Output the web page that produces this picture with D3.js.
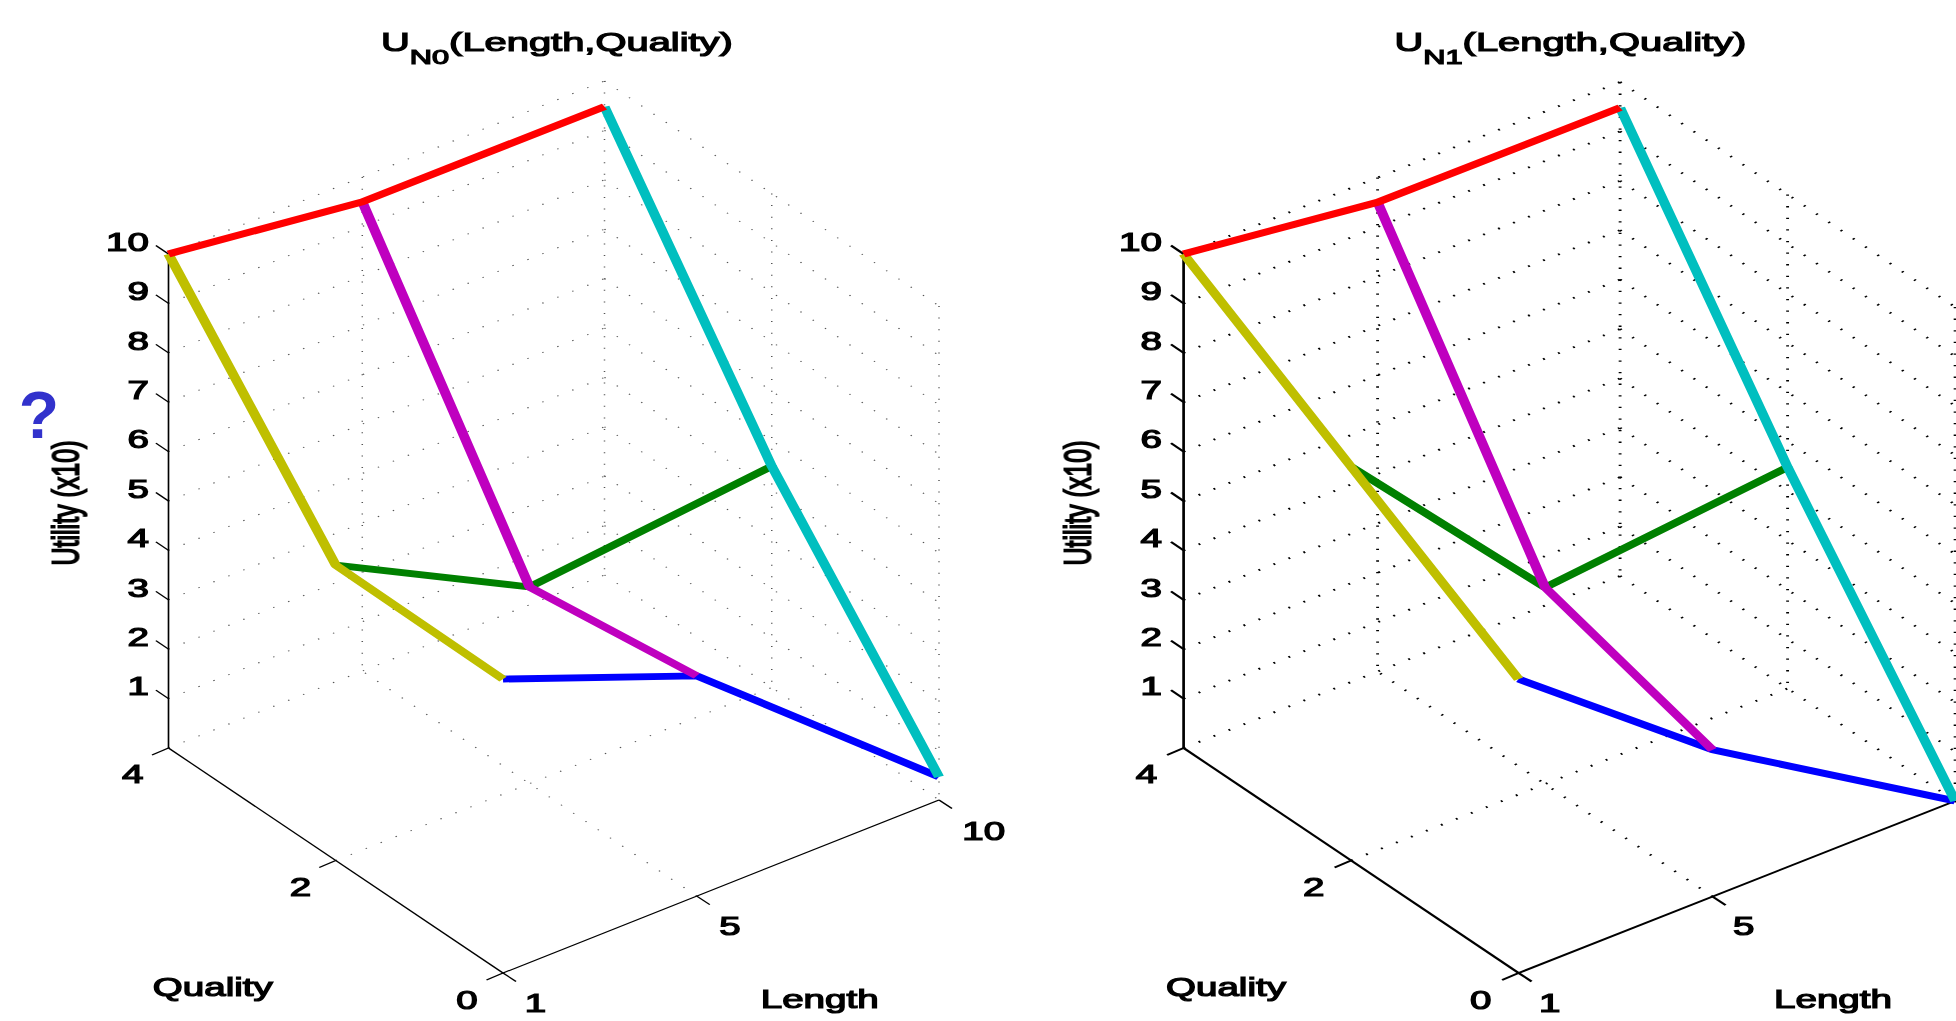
<!DOCTYPE html>
<html>
<head>
<meta charset="utf-8">
<style>
html,body{margin:0;padding:0;background:#fff;overflow:hidden}
svg{display:block}
text{font-family:"Liberation Sans",Arial,sans-serif;fill:#000}
</style>
<script src="https://cdn.jsdelivr.net/npm/d3@7/dist/d3.min.js"></script>
</head>
<body>
<svg id="chart"></svg>
<script>
// ---- data ----
const lengthLevels = [1, 5, 10];
const qualityLevels = [4, 2, 0];
const lengthTicks = [1, 5, 10];
const qualityTicks = [0, 2, 4];
const utilityTicks = [1, 2, 3, 4, 5, 6, 7, 8, 9, 10];

const u0Quality4 = [10, 9.5, 9.48];
const u0Quality2 = [5.98, 3.98, 4.48];
const u0Quality0 = [5.95, 4.46, 0.47];

const u1Quality4 = [10, 9.5, 9.48];
const u1Quality2 = [7.97, 3.98, 4.48];
const u1Quality0 = [5.95, 2.97, 0];

const titles = ["N0", "N1"];
const colorQualityHigh = "#ff0000";
const colorQualityMid = "#008000";
const colorQualityLow = "#0000ff";
const colorLengthShort = "#bfbf00";
const colorLengthMid = "#bf00bf";
const colorLengthLong = "#00bfbf";

// ---- layout ----
const W = 1956, H = 1021, K = 1.5;
const px = v => v / K;
const svg = d3.select("#chart").attr("width", W).attr("height", H)
  .attr("viewBox", `0 0 ${W / K} ${H}`).attr("preserveAspectRatio", "none");
const defs = svg.append("defs");
defs.append("filter").attr("id", "soft").append("feGaussianBlur").attr("stdDeviation", "0.4");

function drawPanel(cfg) {
  const lenX = d3.scaleLinear().domain([1, 10]).range([0, px(cfg.lenDx)]);
  const lenY = d3.scaleLinear().domain([1, 10]).range([0, cfg.lenDy]);
  const qualX = d3.scaleLinear().domain([0, 4]).range([0, px(cfg.qualDx)]);
  const qualY = d3.scaleLinear().domain([0, 4]).range([0, cfg.qualDy]);
  const utilY = d3.scaleLinear().domain([0, 10]).range([0, -cfg.utilH]);
  const X = (L, q) => px(cfg.ox) + lenX(L) + qualX(q);
  const Y = (L, q, u) => cfg.oy + lenY(L) + qualY(q) + utilY(u);
  const line = d3.line().x(d => X(d[0], d[1])).y(d => Y(d[0], d[1], d[2]));

  const g = svg.append("g");

  // grid
  const grid = g.append("g").attr("fill", "none")
    .attr("stroke", cfg.gridColor).attr("stroke-width", cfg.gridWidth)
    .attr("stroke-dasharray", cfg.gridDash);
  const gridPaths = [];
  [0].concat(utilityTicks).forEach(u => {
    gridPaths.push([[1, 4, u], [10, 4, u]]);
    gridPaths.push([[10, 4, u], [10, 0, u]]);
  });
  gridPaths.push([[1, 2, 0], [10, 2, 0]]);
  gridPaths.push([[5, 0, 0], [5, 4, 0]]);
  [[5, 4], [10, 4], [10, 2], [10, 0]].forEach(p => gridPaths.push([[p[0], p[1], 10], [p[0], p[1], 0]]));
  grid.selectAll("path").data(gridPaths).join("path").attr("d", line);

  // axes
  const axes = g.append("g").attr("fill", "none").attr("stroke", "#000").attr("stroke-width", cfg.axisWidth);
  const axisPaths = [
    [[1, 4, 0], [1, 4, 10]],
    [[1, 4, 0], [1, 0, 0]],
    [[1, 0, 0], [10, 0, 0]]
  ];
  axes.selectAll("path.a").data(axisPaths).join("path").attr("class", "a").attr("d", line);
  const tick = (x0, y0, dx, dy) => axes.append("line").attr("x1", x0).attr("y1", y0).attr("x2", x0 + px(dx)).attr("y2", y0 + dy);
  utilityTicks.forEach(u => tick(X(1, 4), Y(1, 4, u), -12.6, -8.5));
  lengthTicks.forEach(L => tick(X(L, 0), Y(L, 0, 0), 13, 8.5));
  qualityTicks.forEach(q => tick(X(1, q), Y(1, q, 0), -16.5, 7));

  // data lines: one per quality level and one per length level
  const rowPts = (vals, q) => lengthLevels.map((L, i) => [L, q, vals[i]]);
  const colPts = (i) => qualityLevels.map((q, j) => [lengthLevels[i], q, cfg.rows[j][i]]);
  const series = [
    { pts: rowPts(cfg.rows[2], 0), c: colorQualityLow },
    { pts: rowPts(cfg.rows[1], 2), c: colorQualityMid },
    { pts: colPts(0), c: colorLengthShort },
    { pts: colPts(1), c: colorLengthMid },
    { pts: colPts(2), c: colorLengthLong },
    { pts: rowPts(cfg.rows[0], 4), c: colorQualityHigh }
  ];
  g.append("g").attr("fill", "none").attr("stroke-width", 6.8).attr("stroke-linejoin", "bevel")
    .selectAll("path").data(series).join("path")
    .attr("d", d => line(d.pts)).attr("stroke", d => d.c);

  // text
  const t = g.append("g").attr("filter", "url(#soft)").attr("stroke", "#000").attr("stroke-width", 1.25);
  const fs = 25.7;
  const label = (x, y, s, anchor) => t.append("text")
    .attr("x", px(x)).attr("y", y + 0.36 * fs).attr("text-anchor", anchor || "middle")
    .attr("font-size", fs).text(s);

  utilityTicks.forEach(u => label(cfg.utilLabelX, Y(1, 4, u) - 12.5, u, "end"));
  qualityTicks.forEach(q => label(cfg.ql[q][0], cfg.ql[q][1], q));
  lengthTicks.filter(L => cfg.ll[L]).forEach(L => label(cfg.ll[L][0], cfg.ll[L][1], L));
  label(cfg.qualityLabel[0], cfg.qualityLabel[1], "Quality");
  label(cfg.lengthLabel[0], cfg.lengthLabel[1], "Length");

  const title = t.append("text").attr("x", px(cfg.titleX)).attr("y", 51.5).attr("font-size", 26.6);
  title.append("tspan").text("U");
  title.append("tspan").attr("dy", 12.5).attr("font-size", 20.5).text(cfg.name);
  title.append("tspan").attr("dy", -12.5).text("(Length,Quality)");

  t.append("text")
    .attr("transform", `translate(${px(cfg.yLabelX)},503) rotate(-90)`)
    .attr("text-anchor", "middle").attr("font-size", 25)
    .text("Utility (x10)");
}

drawPanel({
  name: titles[0], rows: [u0Quality4, u0Quality2, u0Quality0],
  ox: 503, oy: 973, lenDx: 436, lenDy: -173, qualDx: -334.5, qualDy: -225, utilH: 494,
  gridColor: "#555", gridWidth: 1, gridDash: "1 10.6", axisWidth: 1.1,
  utilLabelX: 149, titleX: 381, yLabelX: 78,
  ql: { 4: [132.7, 774], 2: [300.6, 887], 0: [467, 1000] },
  ll: { 1: [535.5, 1003], 5: [730, 926], 10: [983.7, 831] },
  qualityLabel: [212.8, 987], lengthLabel: [819.7, 999]
});
drawPanel({
  name: titles[1], rows: [u1Quality4, u1Quality2, u1Quality0],
  ox: 1518.6, oy: 973, lenDx: 436.5, lenDy: -172, qualDx: -335, qualDy: -225, utilH: 494,
  gridColor: "#000", gridWidth: 1.9, gridDash: "1.3 10.3", axisWidth: 1.8,
  utilLabelX: 1162, titleX: 1394.5, yLabelX: 1090,
  ql: { 4: [1146.4, 774], 2: [1313.6, 887], 0: [1480.8, 1000] },
  ll: { 1: [1549.7, 1003], 5: [1743.7, 926] },
  qualityLabel: [1226, 987], lengthLabel: [1833, 999]
});

// hand-added question mark beside the first panel (not stretched with the axes)
svg.append("text")
  .attr("transform", `translate(${px(39)},438) scale(${1 / K},1)`)
  .attr("text-anchor", "middle").attr("font-size", 66).attr("font-weight", "bold")
  .style("fill", "#3333cc").attr("filter", "url(#soft)").text("?");
</script>
</body>
</html>
